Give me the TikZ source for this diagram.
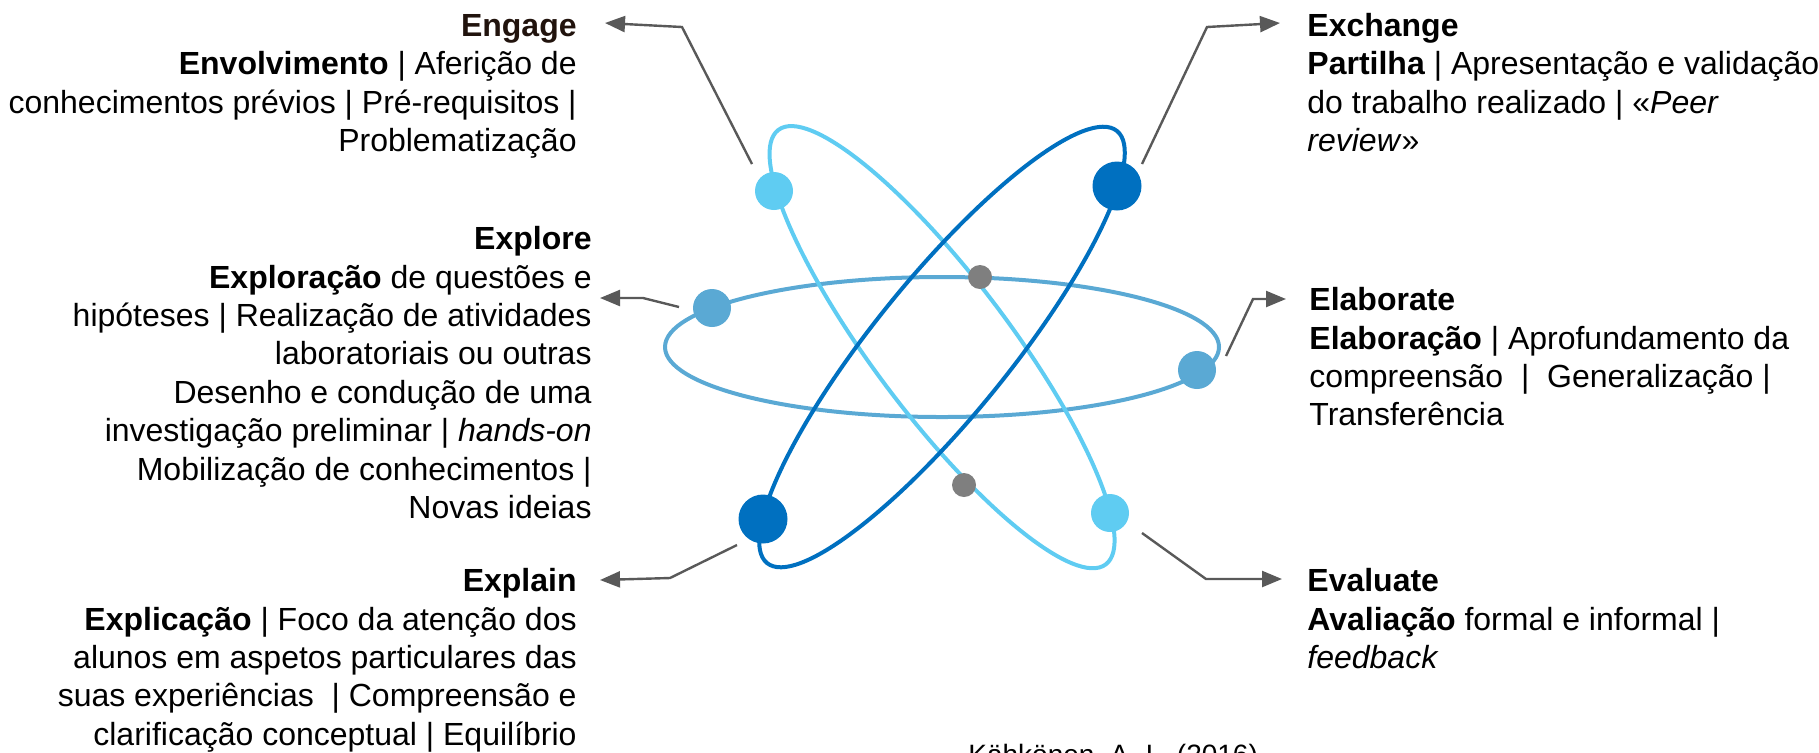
\documentclass[tikz,border=0pt]{standalone}
\usepackage{fontspec}
\setmainfont{Liberation Sans}
\usepackage{tikz}
\usetikzlibrary{arrows.meta}

\definecolor{lightblue}{HTML}{5FCCF2}
\definecolor{darkblue}{HTML}{0070C0}
\definecolor{midblue}{HTML}{5AA9D4}
\definecolor{ballgray}{HTML}{7F7F7F}
\definecolor{arrowgray}{HTML}{595959}
\definecolor{titlebrown}{HTML}{21130D}

\tikzset{
  orbit/.style={line width=2pt},
  ball/.style={circle, inner sep=0pt, minimum size=#1},
  pointer/.style={draw=arrowgray, line width=1.2pt, -{Triangle[length=10pt,width=8pt]}},
  lbl/.style={inner sep=0pt, font=\fontsize{16pt}{19.2pt}\selectfont},
}

\begin{document}
\begin{tikzpicture}[x=0.5pt,y=-0.5pt]
\useasboundingbox (0,0) rectangle (1819,752);
%% orbits
\coordinate (ctr) at (942,347);
\draw[orbit, midblue] (ctr) ellipse [x radius=138.5pt, y radius=35pt];
\draw[orbit, lightblue, rotate around={-53:(ctr)}] (ctr) ellipse [x radius=136pt, y radius=34pt];
\draw[orbit, darkblue, rotate around={51:(ctr)}] (ctr) ellipse [x radius=139pt, y radius=34pt];
%% electrons
\node[ball=19pt, fill=lightblue] (light1) at (774,191) {};
\node[ball=19pt, fill=lightblue] (light2) at (1110,513) {};
\node[ball=24.5pt, fill=darkblue] (dark1) at (1117,186) {};
\node[ball=24.5pt, fill=darkblue] (dark2) at (763,519) {};
\node[ball=19pt, fill=midblue] (mid1) at (712,308) {};
\node[ball=19pt, fill=midblue] (mid2) at (1197,370) {};
\node[ball=12pt, fill=ballgray] (gray1) at (980,277) {};
\node[ball=12pt, fill=ballgray] (gray2) at (964,485) {};

%% left labels
\node[lbl, anchor=north east, align=right] (engage) at (577,14)
  {\textbf{\color{titlebrown}Engage}\\
   \textbf{Envolvimento} | Aferição de\\
   conhecimentos prévios | Pré-requisitos |\\
   Problematização};
\node[lbl, anchor=north east, align=right] (explore) at (592,226)
  {\textbf{Explore}\\
   \textbf{Exploração} de questões e\\
   hipóteses | Realização de atividades\\
   laboratoriais ou outras\\
   Desenho e condução de uma\\
   investigação preliminar | \textit{hands-on}\\
   Mobilização de conhecimentos |\\
   Novas ideias};
\node[lbl, anchor=north east, align=right] (explain) at (577,568)
  {\textbf{Explain}\\
   \textbf{Explicação} | Foco da atenção dos\\
   alunos em aspetos particulares das\\
   suas experiências~ | Compreensão e\\
   clarificação conceptual | Equilíbrio};

%% right labels
\node[lbl, anchor=north west, align=left] (exchange) at (1307,13)
  {\textbf{Exchange}\\
   \textbf{Partilha} | Apresentação e validação\\
   do trabalho realizado | «\textit{Peer}\\
   \textit{review}»};
\node[lbl, anchor=north west, align=left] (elaborate) at (1309,287)
  {\textbf{Elaborate}\\
   \textbf{Elaboração} | Aprofundamento da\\
   compreensão~ |~ Generalização |\\
   Transferência};
\node[lbl, anchor=north west, align=left] (evaluate) at (1307,568)
  {\textbf{Evaluate}\\
   \textbf{Avaliação} formal e informal |\\
   \textit{feedback}};

%% source
\node[inner sep=0pt, anchor=north west, font=\fontsize{14pt}{16pt}\selectfont] (source) at (968,744)
  {Kähkönen, A.-L. (2016)};

%% pointers
\coordinate (engS) at (752,164);  \coordinate (engB) at (682,27);   \coordinate (engT) at (605,23);
\coordinate (expS) at (679,307);  \coordinate (expB) at (643,298);  \coordinate (expT) at (600,298);
\coordinate (plnS) at (737,545);  \coordinate (plnB) at (670,578);  \coordinate (plnT) at (600,580);
\coordinate (excS) at (1142,164); \coordinate (excB) at (1207,27);  \coordinate (excT) at (1280,23);
\coordinate (elaS) at (1226,356); \coordinate (elaB) at (1253,299); \coordinate (elaT) at (1286,299);
\coordinate (evaS) at (1142,533); \coordinate (evaB) at (1206,579); \coordinate (evaT) at (1282,579);
\draw[pointer] (engS) -- (engB) -- (engT);
\draw[pointer] (expS) -- (expB) -- (expT);
\draw[pointer] (plnS) -- (plnB) -- (plnT);
\draw[pointer] (excS) -- (excB) -- (excT);
\draw[pointer] (elaS) -- (elaB) -- (elaT);
\draw[pointer] (evaS) -- (evaB) -- (evaT);
\end{tikzpicture}
\end{document}
